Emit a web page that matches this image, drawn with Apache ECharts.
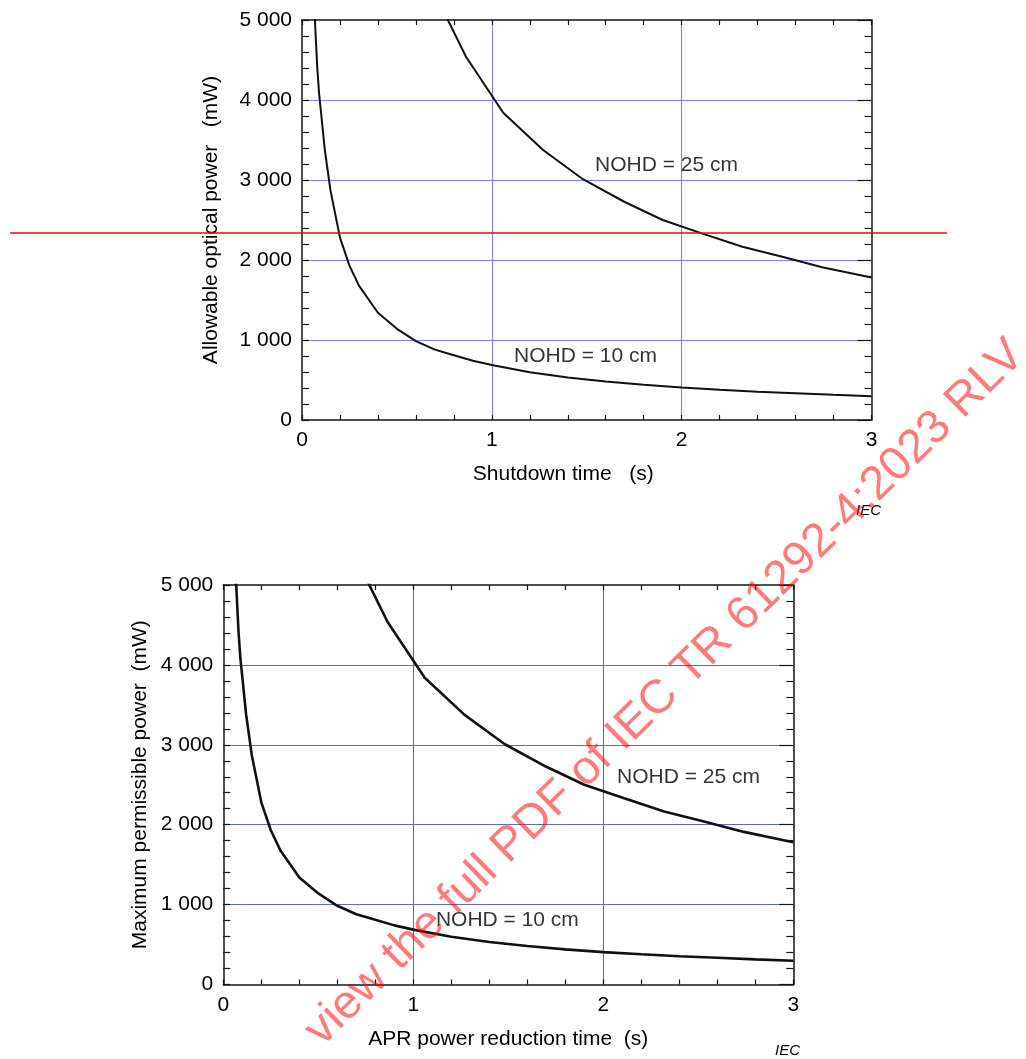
<!DOCTYPE html>
<html>
<head>
<meta charset="utf-8">
<script src="https://cdn.jsdelivr.net/npm/echarts@6/dist/echarts.min.js"></script>
<style>
html,body{margin:0;padding:0;background:#ffffff;}
#chart{width:1026px;height:1059px;}
</style>
</head>
<body>
<div id="chart"></div>
<script>
// ---- data ----
const time10  = [0.06, 0.07, 0.08, 0.09, 0.10, 0.12, 0.15, 0.20, 0.25, 0.30, 0.40, 0.50, 0.60, 0.70, 0.80, 0.90, 1.00, 1.20, 1.40, 1.60, 1.80, 2.00, 2.20, 2.40, 2.60, 2.80, 3.00];
const power10 = [5500, 4900, 4420, 4080, 3850, 3380, 2870, 2280, 1930, 1680, 1340, 1140, 985, 880, 810, 740, 687, 598, 532, 482, 440, 405, 378, 354, 334, 315, 298];
const time25  = [0.70, 0.864, 1.06, 1.27, 1.48, 1.70, 1.90, 2.11, 2.32, 2.53, 2.74, 3.00];
const power25 = [5330, 4540, 3840, 3375, 3010, 2725, 2500, 2330, 2165, 2040, 1910, 1780];
const curveNames = ['NOHD = 10 cm', 'NOHD = 25 cm'];
const xTickLabels = ['0', '1', '2', '3'];
const yTickLabels = ['0', '1 000', '2 000', '3 000', '4 000', '5 000'];
const labelTopX = [1.117, 1.544];
const labelTopY = [800, 3187];
const labelBottomX = [1.119, 2.072];
const labelBottomY = [805, 2596];
const markerLevel = 2337;
const axisTitlesTop = ['Shutdown time   (s)', 'Allowable optical power   (mW)'];
const axisTitlesBottom = ['APR power reduction time  (s)', 'Maximum permissible power  (mW)'];
const watermarkText = 'view the full PDF of IEC TR 61292-4:2023 RLV';
const sourceTag = 'IEC';

// ---- build ----
const FONT = '"Liberation Sans", Arial, Helvetica, sans-serif';
const pairs = (xs, ys) => xs.map((x, i) => [x, ys[i]]);
const black = '#000000';
const frame = '#141414';

function xAxisPair(gridIndex, name, gridColor, nameGap, namePadding) {
  return [
    {
      gridIndex, type: 'value', position: 'bottom', min: 0, max: 3, interval: 1,
      name, nameLocation: 'middle', nameGap, nameMoveOverlap: false,
      nameTextStyle: { fontSize: 21, color: black, fontFamily: FONT, padding: namePadding },
      axisLine: { show: true, onZero: false, lineStyle: { color: frame, width: 1.5 } },
      axisTick: { show: true, inside: true, length: 5, lineStyle: { color: frame, width: 1.2 } },
      minorTick: { show: true, splitNumber: 5, length: 5, lineStyle: { color: frame, width: 1.2 } },
      axisLabel: { show: true, margin: 10, fontSize: 21, color: black, fontFamily: FONT,
        formatter: v => xTickLabels[Math.round(v)] },
      splitLine: { show: true, showMinLine: false, showMaxLine: false, lineStyle: { color: gridColor, width: 1.1 } }
    },
    {
      gridIndex, type: 'value', position: 'top', min: 0, max: 3, interval: 1,
      axisLine: { show: true, onZero: false, lineStyle: { color: frame, width: 1.5 } },
      axisTick: { show: true, inside: true, length: 5, lineStyle: { color: frame, width: 1.2 } },
      minorTick: { show: true, splitNumber: 5, length: 5, lineStyle: { color: frame, width: 1.2 } },
      axisLabel: { show: false },
      splitLine: { show: false }
    }
  ];
}

function yAxisPair(gridIndex, name, gridColor, nameGap) {
  return [
    {
      gridIndex, type: 'value', position: 'left', min: 0, max: 5000, interval: 1000,
      name, nameLocation: 'middle', nameGap, nameMoveOverlap: false,
      nameTextStyle: { fontSize: 21, color: black, fontFamily: FONT },
      axisLine: { show: true, onZero: false, lineStyle: { color: frame, width: 1.5 } },
      axisTick: { show: true, inside: true, length: 7, lineStyle: { color: frame, width: 1.2 } },
      minorTick: { show: true, splitNumber: 5, length: 7, lineStyle: { color: frame, width: 1.2 } },
      axisLabel: { show: true, margin: 10, fontSize: 21, color: black, fontFamily: FONT,
        formatter: v => yTickLabels[Math.round(v / 1000)] },
      splitLine: { show: true, showMinLine: false, showMaxLine: false, lineStyle: { color: gridColor, width: 1.1 } }
    },
    {
      gridIndex, type: 'value', position: 'right', min: 0, max: 5000, interval: 1000,
      axisLine: { show: true, onZero: false, lineStyle: { color: frame, width: 1.5 } },
      axisTick: { show: true, inside: true, length: 14, lineStyle: { color: frame, width: 1.2 } },
      minorTick: { show: true, splitNumber: 5, length: 7, lineStyle: { color: frame, width: 1.2 } },
      axisLabel: { show: false },
      splitLine: { show: false }
    }
  ];
}

const topGrid = '#7f7fff';
const bottomGrid = '#5f6dbd';

const xAxes = [
  ...xAxisPair(0, axisTitlesTop[0], topGrid, 44, [0, 47, 0, 0]),
  ...xAxisPair(1, axisTitlesBottom[0], bottomGrid, 44, [0, 0, 0, 0]),
  { gridIndex: 2, type: 'value', min: 0, max: 1, show: false }
];
const yAxes = [
  ...yAxisPair(0, axisTitlesTop[1], topGrid, 80),
  ...yAxisPair(1, axisTitlesBottom[1], bottomGrid, 73),
  { gridIndex: 2, type: 'value', min: 0, max: 5000, show: false }
];

function curve(xi, yi, xs, ys, width) {
  return {
    type: 'line', xAxisIndex: xi, yAxisIndex: yi, data: pairs(xs, ys),
    symbol: 'none', smooth: false, clip: true, silent: true, z: 3,
    lineStyle: { color: '#111111', width }
  };
}
function labels(xi, yi, xs, ys) {
  return {
    type: 'scatter', xAxisIndex: xi, yAxisIndex: yi, symbolSize: 0, silent: true, z: 4,
    data: xs.map((x, i) => ({ value: [x, ys[i]], name: curveNames[i] })),
    label: { show: true, position: 'right', distance: 0, formatter: '{b}',
      fontSize: 21, color: black, fontFamily: FONT }
  };
}

const option = {
  animation: false,
  backgroundColor: '#ffffff',
  textStyle: { fontFamily: FONT },
  grid: [
    { left: 302, right: 154.5, top: 20, height: 400, containLabel: false, outerBoundsMode: 'none' },
    { left: 223.3, right: 232.7, top: 585, height: 399.5, containLabel: false, outerBoundsMode: 'none' },
    { left: 10, right: 79, top: 20, height: 400, containLabel: false, outerBoundsMode: 'none' }
  ],
  xAxis: xAxes,
  yAxis: yAxes,
  series: [
    curve(0, 0, time10, power10, 2),
    curve(0, 0, time25, power25, 2),
    labels(0, 0, labelTopX, labelTopY),
    curve(2, 2, time10, power10, 2.6),
    curve(2, 2, time25, power25, 2.6),
    labels(2, 2, labelBottomX, labelBottomY),
    {
      type: 'line', xAxisIndex: 4, yAxisIndex: 4, symbol: 'none', silent: true, z: 5,
      data: [[0, markerLevel], [1, markerLevel]],
      lineStyle: { color: '#ff0000', width: 1.6 }
    }
  ],
  graphic: [
    { type: 'text', x: 856, y: 511, z: 10, silent: true,
      style: { text: sourceTag, fontSize: 15, fontStyle: 'italic', fontFamily: FONT, fill: '#000000', align: 'left', verticalAlign: 'middle' } },
    { type: 'text', x: 775, y: 1051, z: 10, silent: true,
      style: { text: sourceTag, fontSize: 15, fontStyle: 'italic', fontFamily: FONT, fill: '#000000', align: 'left', verticalAlign: 'middle' } },
    { type: 'text', x: 665, y: 693, rotation: 0.775, scaleX: 1.01, scaleY: 1, z: 100, silent: true,
      style: { text: watermarkText, fontSize: 47, fontFamily: FONT, fill: 'rgba(255,0,0,0.52)', align: 'center', verticalAlign: 'middle' } }
  ]
};

const chart = echarts.init(document.getElementById('chart'), null, { renderer: 'canvas' });
chart.setOption(option);
</script>
</body>
</html>
